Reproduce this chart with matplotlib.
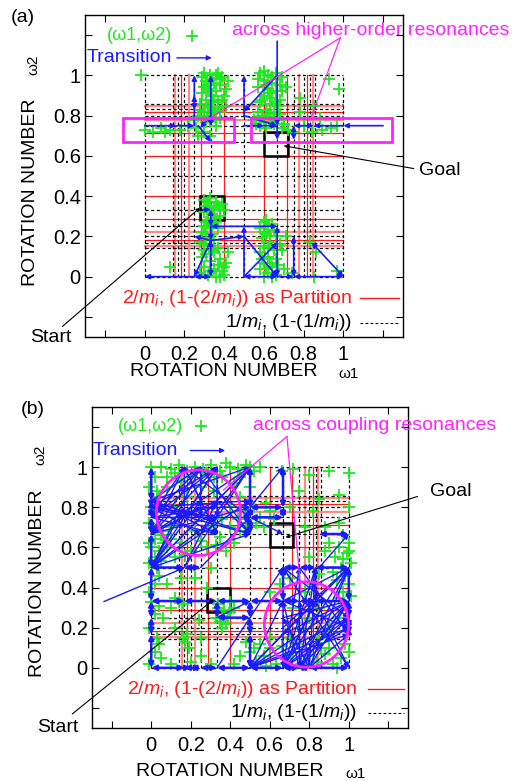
import matplotlib
matplotlib.use("Agg")
import matplotlib.pyplot as plt
from matplotlib.patches import Rectangle, Ellipse

plt.rcParams['font.family'] = ['Liberation Sans', 'DejaVu Sans']
plt.rcParams['mathtext.fontset'] = 'custom'
plt.rcParams['mathtext.rm'] = 'Liberation Sans'
plt.rcParams['mathtext.it'] = 'Liberation Sans:italic'

GREEN = '#1ee81e'
BLUE = '#1a1aff'
MAG = '#ff22ff'
RED = '#ff1a1a'
PINK = '#ff8a8a'

# --- partition lines: 2/m, 1-2/m (red) and 1/m, 1-1/m (dotted) ---
red_dark = [0.182, 0.286, 0.4, 0.6, 0.714, 0.818]
red_light = [0.154, 0.222, 0.778, 0.846]
dotted_vals = [0, 0.143, 0.167, 0.2, 0.25, 0.333, 0.5, 0.667, 0.75, 0.8, 0.833, 0.857, 1]

ticks = [-0.2, 0, 0.2, 0.4, 0.6, 0.8, 1, 1.2]
tick_labels = ['', '0', '0.2', '0.4', '0.6', '0.8', '1', '']

# --- panel (a): rotation numbers (w1, w2) ---
pts_a = [(0.30, 1.01), (0.33, 1.0), (0.36, 1.0), (0.39, 0.99), (0.31, 0.97), (0.35, 0.96), (0.38, 0.95),
         (0.32, 0.93), (0.36, 0.92), (0.29, 0.91), (0.34, 0.90), (0.40, 0.90), (0.31, 0.88), (0.37, 0.87),
         (0.33, 0.85), (0.28, 0.86), (0.35, 0.83), (0.30, 0.82), (0.38, 0.82), (0.33, 0.80), (0.27, 0.80),
         (0.36, 0.78), (0.31, 0.77), (0.25, 0.78), (0.42, 0.97), (0.41, 0.85), (0.32, 0.95), (0.37, 1.01),
         (0.34, 0.87), (0.30, 0.79), (0.29, 0.99), (0.34, 0.98), (0.38, 0.98), (0.41, 0.93), (0.33, 0.92),
         (0.30, 0.94), (0.39, 0.88), (0.35, 0.88), (0.32, 0.84), (0.37, 0.84), (0.34, 0.81), (0.28, 0.83),
         (0.38, 0.79), (0.33, 0.77), (0.36, 0.75),
         (-0.02, 1.0), (0.0, 0.73), (0.04, 0.72), (0.08, 0.74), (0.10, 0.72), (0.13, 0.73), (0.18, 0.73),
         (0.22, 0.75), (0.26, 0.74), (0.30, 0.72), (0.33, 0.70), (0.27, 0.70),
         (0.58, 1.01), (0.62, 1.0), (0.66, 1.01), (0.69, 0.99), (0.60, 0.97), (0.64, 0.96), (0.68, 0.95),
         (0.57, 0.94), (0.62, 0.93), (0.66, 0.92), (0.60, 0.90), (0.64, 0.89), (0.68, 0.88), (0.58, 0.87),
         (0.63, 0.86), (0.67, 0.85), (0.61, 0.83), (0.65, 0.82), (0.59, 0.80), (0.63, 0.79), (0.67, 0.78),
         (0.60, 0.77), (0.65, 0.76), (0.58, 0.75), (0.70, 0.76), (0.55, 0.78), (0.71, 0.94), (0.66, 0.98),
         (0.60, 1.02), (0.64, 0.99), (0.57, 0.98), (0.61, 0.95), (0.69, 0.92), (0.63, 0.91), (0.59, 0.88),
         (0.66, 0.87), (0.62, 0.81), (0.68, 0.81), (0.57, 0.82), (0.64, 0.77), (0.61, 0.74), (0.69, 0.74),
         (0.56, 0.76),
         (0.78, 0.89), (0.85, 0.85), (0.78, 0.82), (0.93, 0.98), (0.98, 0.93), (0.80, 0.75), (0.84, 0.72),
         (0.89, 0.73), (0.94, 0.74), (0.97, 0.75), (0.75, 0.72), (0.72, 0.73), (0.88, 0.79),
         (0.30, 0.38), (0.33, 0.39), (0.36, 0.37), (0.39, 0.36), (0.31, 0.35), (0.35, 0.34), (0.40, 0.33),
         (0.30, 0.32), (0.34, 0.31), (0.38, 0.30), (0.32, 0.28), (0.36, 0.27), (0.30, 0.25), (0.33, 0.24),
         (0.29, 0.22), (0.34, 0.21), (0.31, 0.19), (0.28, 0.17), (0.33, 0.15), (0.30, 0.13), (0.35, 0.12),
         (0.29, 0.10), (0.33, 0.08), (0.38, 0.09), (0.41, 0.07), (0.30, 0.05), (0.35, 0.04), (0.39, 0.03),
         (0.32, 0.01), (0.36, 0.0), (0.40, 0.01), (0.28, 0.02), (0.42, 0.12), (0.37, 0.14), (0.13, 0.05),
         (0.32, 0.37), (0.37, 0.35), (0.33, 0.33), (0.38, 0.33), (0.35, 0.29), (0.31, 0.27), (0.34, 0.26),
         (0.37, 0.24), (0.31, 0.21), (0.35, 0.18), (0.30, 0.16), (0.34, 0.13), (0.31, 0.11), (0.37, 0.06),
         (0.33, 0.03), (0.38, 0.0), (0.40, 0.05),
         (0.60, 0.27), (0.62, 0.25), (0.58, 0.24), (0.65, 0.23), (0.61, 0.21), (0.66, 0.20), (0.59, 0.19),
         (0.63, 0.17), (0.60, 0.15), (0.65, 0.13), (0.58, 0.12), (0.62, 0.10), (0.66, 0.09), (0.60, 0.07),
         (0.64, 0.05), (0.58, 0.04), (0.62, 0.02), (0.66, 0.01), (0.60, 0.0), (0.69, 0.13), (0.71, 0.20),
         (0.70, 0.04), (0.68, 0.16), (0.61, 0.28), (0.64, 0.26), (0.60, 0.22), (0.63, 0.20), (0.62, 0.14),
         (0.59, 0.09), (0.63, 0.07), (0.61, 0.04), (0.64, 0.0), (0.67, 0.06),
         (0.83, 0.17), (0.85, 0.0), (0.74, 0.02), (0.97, 0.03), (0.86, 0.12)]

arrows_a = [(0.25, 0.75, 0.25, 1.0), (0.333, 0.8, 0.333, 1.0), (0.5, 0.8, 0.5, 1.0),
            (0.667, 1.17, 0.667, 0.75), (0.667, 1.0, 0.5, 0.82), (0.5, 0.8, 0.667, 0.75),
            (0.0, 0.75, 0.16, 0.75), (0.16, 0.75, 0.25, 0.75), (0.27, 0.75, 0.333, 0.67),
            (0.333, 0.8, 0.28, 0.74), (0.5, 0.75, 0.6, 0.75), (0.6, 0.75, 0.667, 0.75),
            (1.2, 0.75, 1.0, 0.75), (1.0, 0.75, 0.85, 0.75), (0.667, 0.75, 0.667, 0.68),
            (0.29, 0.333, 0.333, 0.333), (0.333, 0.25, 0.333, 0.18), (0.333, 0.18, 0.25, 0.2),
            (0.333, 0.18, 0.5, 0.2), (0.333, 0.18, 0.25, 0.0), (0.25, 0.0, 0.0, 0.0),
            (0.5, 0.0, 0.5, 0.25), (0.5, 0.2, 0.667, 0.0), (0.5, 0.0, 0.667, 0.17),
            (0.667, 0.0, 0.75, 0.0)]
darrows_a = [(0.333, 0.75, 0.333, 0.8), (0.25, 0.83, 0.25, 0.9), (0.85, 0.75, 0.75, 0.75),
             (0.75, 0.75, 0.75, 0.68), (0.333, 0.333, 0.333, 0.25), (0.333, 0.25, 0.667, 0.25),
             (0.333, 0.18, 0.333, 0.0), (0.25, 0.0, 0.333, 0.0), (0.667, 0.0, 0.667, 0.25),
             (0.5, 0.0, 0.667, 0.0), (0.75, 0.0, 0.75, 0.2), (0.75, 0.0, 1.0, 0.0),
             (0.84, 0.17, 1.0, 0.0)]
rects_a = [(-0.111, 0.667, 0.56, 0.123), (0.535, 0.667, 0.712, 0.123)]

# --- panel (b) ---
pts_b = [(-0.01, 0.02), (0.02, 0.08), (0.04, 0.12), (-0.01, 0.2), (0.02, 0.27), (0.04, 0.31), (-0.01, 0.38),
         (0.02, 0.42), (0.04, 0.46), (-0.01, 0.52), (0.02, 0.55), (0.04, 0.58), (-0.01, 0.62), (0.02, 0.64),
         (0.04, 0.7), (-0.01, 0.72), (0.02, 0.78), (0.04, 0.85), (-0.01, 0.9), (0.02, 0.95), (0.0, 1.0),
         (0.03, 0.15), (0.0, 0.33), (0.03, 0.5), (0.0, 0.6), (0.05, 0.66), (0.0, 0.8), (0.03, 0.88),
         (0.05, 0.53), (0.06, 0.62),
         (0.05, 1.0), (0.10, 0.99), (0.14, 1.01), (0.18, 0.98), (0.22, 1.0), (0.26, 0.99), (0.30, 1.01),
         (0.35, 0.98), (0.40, 1.0), (0.44, 0.99), (0.48, 1.01), (0.52, 0.98), (0.55, 1.0), (0.08, 0.95),
         (0.20, 0.95), (0.32, 0.95), (0.45, 0.95), (0.12, 0.97), (0.28, 0.97), (0.38, 1.02), (0.50, 1.0),
         (0.08, 0.60), (0.12, 0.55), (0.15, 0.62), (0.20, 0.58), (0.06, 0.68), (0.10, 0.70), (0.28, 0.60),
         (0.35, 0.65), (0.40, 0.70), (0.42, 0.62), (0.45, 0.68), (0.48, 0.72), (0.38, 0.58), (0.30, 0.70),
         (0.22, 0.68), (0.12, 0.80), (0.18, 0.85), (0.25, 0.90), (0.32, 0.88), (0.40, 0.80), (0.45, 0.85),
         (0.08, 0.90), (0.15, 0.93), (0.50, 0.90), (0.52, 0.80), (0.55, 0.75), (0.60, 0.78), (0.58, 0.82),
         (0.62, 0.74), (0.50, 0.70), (0.47, 0.78), (0.36, 0.95), (0.42, 0.92), (0.10, 0.64), (0.17, 0.56),
         (0.25, 0.63), (0.33, 0.61), (0.44, 0.74), (0.36, 0.74), (0.53, 0.72), (0.57, 0.70),
         (0.66, 0.98), (0.72, 0.99), (0.80, 0.96), (0.90, 0.98), (1.0, 0.97), (0.75, 0.88), (0.85, 0.84),
         (0.95, 0.86), (0.70, 0.80), (0.82, 0.78), (0.88, 0.70), (0.95, 0.72), (1.0, 0.80), (0.78, 0.70),
         (0.90, 0.62), (0.80, 0.55),
         (0.97, 0.66), (1.0, 0.62), (0.95, 0.60), (0.99, 0.57), (0.93, 0.55), (1.01, 0.52), (0.96, 0.50),
         (0.98, 0.46), (0.94, 0.44), (1.0, 0.42), (0.97, 0.38), (0.95, 0.35), (0.88, 0.58), (0.85, 0.47),
         (1.0, 0.58), (0.97, 0.54), (0.92, 0.48), (1.01, 0.36),
         (0.42, 0.02), (0.45, 0.06), (0.50, 0.08), (0.53, 0.03), (0.57, 0.06), (0.60, 0.10), (0.63, 0.02),
         (0.68, 0.05), (0.72, 0.08), (0.76, 0.02), (0.80, 0.06), (0.84, 0.03), (0.88, 0.07), (0.92, 0.02),
         (0.96, 0.05), (1.0, 0.08), (0.98, 0.12), (0.94, 0.0), (0.55, 0.12), (0.48, 0.13), (0.60, 0.15),
         (0.52, 0.10), (0.58, 0.01), (0.66, 0.11), (0.74, 0.12), (0.86, 0.10),
         (0.70, 0.15), (0.75, 0.20), (0.80, 0.25), (0.85, 0.30), (0.90, 0.20), (0.95, 0.25), (0.72, 0.30),
         (0.78, 0.38), (0.82, 0.42), (0.70, 0.45), (0.65, 0.42), (0.60, 0.38), (0.90, 0.10), (0.85, 0.15),
         (0.34, 0.30), (0.37, 0.29), (0.40, 0.28), (0.36, 0.26), (0.33, 0.25), (0.39, 0.25), (0.35, 0.23),
         (0.38, 0.22), (0.42, 0.30), (0.36, 0.20), (0.34, 0.32), (0.40, 0.33),
         (0.17, 0.13), (0.19, 0.10), (0.16, 0.15), (0.18, 0.17), (0.14, 0.33), (0.12, 0.35), (0.16, 0.32),
         (0.10, 0.30),
         (0.05, 0.05), (0.10, 0.02), (0.20, 0.03), (0.25, 0.06), (0.30, 0.02), (0.12, 0.20), (0.25, 0.15),
         (0.28, 0.40), (0.08, 0.42), (0.22, 0.45), (0.30, 0.50), (0.15, 0.45), (0.06, 0.25), (0.24, 0.24)]

# chains of double-headed transitions along partition lines: (fixed value, nodes)
vchains_b = [(0.0, [0, 0.167, 0.25, 0.333, 0.5, 0.667, 0.75, 0.8, 0.833, 1.0]),
             (0.5, [0, 0.167, 0.25, 0.333]), (0.5, [0.667, 0.75, 0.8, 1.0]),
             (0.667, [0.75, 0.8, 1.0]), (0.667, [0.333, 0.5]), (0.333, [0.25, 0.333]),
             (1.0, [0.167, 0.2, 0.25, 0.333, 0.5])]
hchains_b = [(0.0, [0, 0.167, 0.2, 0.25, 0.333, 0.5, 0.667, 0.75, 0.8, 1.0]),
             (0.333, [0, 0.167, 0.333, 0.5, 0.667, 0.75, 0.833, 1.0]),
             (0.5, [0, 0.167, 0.25]), (0.5, [0.667, 0.75, 0.833, 1.0]),
             (0.25, [0.333, 0.5]), (0.8, [0.5, 0.667]), (0.75, [0.5, 0.667]),
             (0.667, [0.85, 1.0])]
arrows_b = [(0.333, 0.0, 0.667, 0.5), (0.85, 0.5, 1.0, 0.667), (0.5, 0.8, 0.667, 1.0),
            (0.5, 0.75, 0.667, 0.667), (0.333, 0.25, 0.5, 0.333), (0.5, 0.0, 0.667, 0.333),
            (-0.24, 0.33, 0.17, 0.5),
            # upper-left bundle
            (0, 0.5, 0.5, 1.0), (0, 0.5, 0.333, 1.0), (0, 0.5, 0.25, 1.0), (0, 0.5, 0.5, 0.833),
            (0, 0.5, 0.333, 0.75), (0, 0.5, 0.5, 0.667), (0, 0.667, 0.5, 1.0), (0, 0.667, 0.333, 1.0),
            (0, 0.667, 0.25, 0.8), (0, 0.667, 0.5, 0.8), (0, 0.667, 0.333, 0.833), (0, 0.75, 0.25, 1.0),
            (0, 0.75, 0.333, 0.667), (0, 0.75, 0.5, 0.75), (0, 0.75, 0.167, 1.0), (0, 0.8, 0.333, 1.0),
            (0, 0.8, 0.25, 0.667), (0, 0.8, 0.5, 0.833), (0, 0.8, 0.333, 0.75), (0, 0.833, 0.25, 1.0),
            (0, 0.833, 0.5, 1.0), (0, 0.833, 0.333, 0.667), (0, 0.833, 0.25, 0.75),
            (0.167, 1.0, 0.333, 0.667), (0.25, 1.0, 0.0, 0.667), (0.333, 1.0, 0.167, 0.75),
            (0.167, 0.5, 0.5, 1.0), (0.25, 0.5, 0.5, 0.75), (0.167, 0.5, 0.333, 0.833),
            (0.25, 0.8, 0.5, 0.8), (0.333, 0.75, 0.0, 0.8), (0.5, 1.0, 0.25, 0.667),
            (0.25, 1.0, 0.25, 0.75), (0.167, 1.0, 0.167, 0.75), (0.333, 1.0, 0.333, 0.75),
            (0.5, 0.667, 0.0, 0.833), (0.333, 0.833, 0.5, 0.667), (0, 0.5, 0.25, 0.833),
            (0, 0.5, 0.167, 0.8), (0, 0.667, 0.167, 1.0), (0, 0.75, 0.333, 0.8), (0.25, 1.0, 0.5, 0.667),
            (0.333, 1.0, 0.0, 0.75), (0.167, 1.0, 0.5, 0.75), (0, 0.8, 0.5, 0.667), (0, 0.833, 0.167, 0.75),
            (0.5, 1.0, 0.0, 0.5), (0.333, 0.667, 0.167, 1.0),
            # lower-right bundle
            (0.5, 0, 1.0, 0.5), (0.5, 0, 1.0, 0.333), (0.5, 0, 0.833, 0.333), (0.5, 0, 0.75, 0.25),
            (0.5, 0, 1.0, 0.25), (0.667, 0, 1.0, 0.5), (0.667, 0, 1.0, 0.333), (0.667, 0, 1.0, 0.2),
            (0.667, 0, 0.833, 0.333), (0.667, 0, 0.75, 0.5), (0.75, 0, 1.0, 0.5), (0.75, 0, 1.0, 0.25),
            (0.75, 0, 0.667, 0.333), (0.75, 0, 0.833, 0.5), (0.8, 0, 1.0, 0.333), (0.8, 0, 0.667, 0.25),
            (0.8, 0, 1.0, 0.167), (0.8, 0, 0.75, 0.333), (0.667, 0.333, 1.0, 0.5), (0.667, 0.333, 1.0, 0.2),
            (0.667, 0.25, 1.0, 0.333), (0.667, 0.5, 1.0, 0.25), (0.75, 0.5, 1.0, 0.167),
            (0.667, 0.2, 1.0, 0.5), (0.833, 0.333, 0.667, 0.0), (1.0, 0.333, 0.75, 0.0),
            (1.0, 0.5, 0.667, 0.167), (0.833, 0.5, 0.833, 0.333), (0.75, 0.333, 0.75, 0.167),
            (0.667, 0.333, 0.667, 0.0), (0.833, 0.25, 0.667, 0.5), (1.0, 0.2, 0.5, 0.0),
            (0.5, 0, 1.0, 0.167), (0.667, 0, 0.833, 0.5), (0.75, 0, 1.0, 0.333), (0.8, 0, 1.0, 0.5),
            (1.0, 0.25, 0.667, 0.0), (0.833, 0.333, 1.0, 0.0), (0.667, 0.5, 1.0, 0.0), (0.75, 0.5, 0.75, 0.0),
            (0.667, 0.167, 1.0, 0.333), (0.8, 0.0, 0.833, 0.5)]
circles_b = [(0.239, 0.773, 0.213), (0.786, 0.216, 0.213)]

goal_box = (0.6, 0.6, 0.12)
start_box = (0.28, 0.28, 0.12)


def arrow(ax, x0, y0, x1, y1, style='-|>', lw=1.0, color=BLUE, ms=7):
    ax.annotate('', xy=(x1, y1), xytext=(x0, y0), annotation_clip=False, zorder=4,
                arrowprops=dict(arrowstyle=style, color=color, lw=lw, mutation_scale=ms,
                                shrinkA=0, shrinkB=0))


def setup(ax):
    ax.set_xlim(-0.3, 1.3)
    ax.set_ylim(-0.3, 1.3)
    ax.set_xticks(ticks)
    ax.set_xticklabels(tick_labels)
    ax.set_yticks(ticks)
    ax.set_yticklabels(tick_labels)
    ax.tick_params(direction='in', top=True, right=True, length=5, width=0.8, labelsize=14.5)
    ax.tick_params(axis='x', pad=6)
    ax.tick_params(axis='y', pad=3)
    for s in ax.spines.values():
        s.set_linewidth(1.0)
    # partition
    for v in red_light:
        ax.plot([v, v], [0, 1], color=PINK, lw=1.6, zorder=1)
        ax.plot([0, 1], [v, v], color=PINK, lw=1.6, zorder=1)
    for v in red_dark:
        ax.plot([v, v], [0, 1], color=RED, lw=0.9, zorder=1)
        ax.plot([0, 1], [v, v], color=RED, lw=0.9, zorder=1)
    for v in dotted_vals:
        ax.plot([v, v], [0, 1], color='black', lw=0.9, ls=(0, (2.5, 2)), zorder=1.1)
        ax.plot([0, 1], [v, v], color='black', lw=0.9, ls=(0, (2.5, 2)), zorder=1.1)
    for x0, y0, s in [goal_box, start_box]:
        ax.add_patch(Rectangle((x0, y0), s, s, fill=False, ec='black', lw=1.8, zorder=1.5))


def legend_lines(ax, x_txt, y_red, y_blk, x0, x1):
    ax.text(x_txt, y_red, r'2/$m_i$, (1-(2/$m_i$)) as Partition', color=RED, fontsize=14,
            ha='right', va='center')
    ax.plot([x0, x1], [y_red, y_red], color=RED, lw=1.0, clip_on=False)
    ax.text(x_txt, y_blk, r'1/$m_i$, (1-(1/$m_i$))', color='black', fontsize=14,
            ha='right', va='center')
    ax.plot([x0, x1], [y_blk, y_blk], color='black', lw=0.8, ls=(0, (2.5, 2)), clip_on=False)


fig = plt.figure(figsize=(5.28, 7.81), dpi=100)
ax_a = fig.add_axes([85 / 528, 1 - 337 / 781, 318 / 528, 322 / 781])
ax_b = fig.add_axes([92 / 528, 1 - 728 / 781, 316 / 528, 321 / 781])

# ---------- panel (a) ----------
ax = ax_a
setup(ax)
ax.plot([p[0] for p in pts_a], [p[1] for p in pts_a], ls='none', marker='+', ms=9, mew=1.3,
        color=GREEN, zorder=2)
for a in arrows_a:
    arrow(ax, *a, lw=1.2)
for a in darrows_a:
    arrow(ax, *a, style='<|-|>', lw=1.2)
for x0, y0, w, h in rects_a:
    ax.add_patch(Rectangle((x0, y0), w, h, fill=False, ec=MAG, lw=2.0, zorder=5, clip_on=False))
ax.text(0.136, 1.197, '(ω1,ω2)', color=GREEN, fontsize=13, ha='right', va='center')
ax.plot([0.237], [1.197], marker='+', ms=9, mew=1.3, color=GREEN, clip_on=False)
ax.text(0.136, 1.087, 'Transition', color=BLUE, fontsize=14, ha='right', va='center')
arrow(ax, 0.162, 1.087, 0.338, 1.087)
ax.text(0.439, 1.222, 'across higher-order resonances', color=MAG, fontsize=14, ha='left', va='center')
ax.plot([0.985, 0.30], [1.187, 0.77], color=MAG, lw=0.9, clip_on=False, zorder=5)
ax.plot([0.985, 0.833], [1.187, 0.778], color=MAG, lw=0.9, clip_on=False, zorder=5)
legend_lines(ax, 1.045, -0.108, -0.228, 1.086, 1.278)
ax.text(1.379, 0.526, 'Goal', fontsize=14, ha='left', va='center')
arrow(ax, 1.354, 0.537, 0.70, 0.65, lw=0.8, color='black', ms=5)
ax.text(-0.47, -0.30, 'Start', fontsize=14, ha='center', va='center')
arrow(ax, -0.414, -0.248, 0.278, 0.342, lw=0.8, color='black', ms=5)

# ---------- panel (b) ----------
ax = ax_b
setup(ax)
ax.plot([p[0] for p in pts_b], [p[1] for p in pts_b], ls='none', marker='+', ms=9, mew=1.3,
        color=GREEN, zorder=2)
for x, nodes in vchains_b:
    for y0, y1 in zip(nodes[:-1], nodes[1:]):
        arrow(ax, x, y0, x, y1, style='<|-|>', lw=1.8)
for y, nodes in hchains_b:
    for x0, x1 in zip(nodes[:-1], nodes[1:]):
        arrow(ax, x0, y, x1, y, style='<|-|>', lw=1.8)
for a in arrows_b:
    arrow(ax, *a, lw=1.0)
for cx, cy, r in circles_b:
    ax.add_patch(Ellipse((cx, cy), 2 * r, 2 * r, fill=False, ec=MAG, lw=2.0, zorder=5))
ax.text(0.162, 1.203, '(ω1,ω2)', color=GREEN, fontsize=13, ha='right', va='center')
ax.plot([0.253], [1.203], marker='+', ms=9, mew=1.3, color=GREEN, clip_on=False)
ax.text(0.136, 1.083, 'Transition', color=BLUE, fontsize=14, ha='right', va='center')
arrow(ax, 0.197, 1.083, 0.374, 1.083)
ax.text(0.515, 1.208, 'across coupling resonances', color=MAG, fontsize=14, ha='left', va='center')
ax.plot([0.687, 0.365], [1.153, 0.886], color=MAG, lw=0.9, clip_on=False, zorder=5)
ax.plot([0.687, 0.76], [1.153, 0.36], color=MAG, lw=0.9, clip_on=False, zorder=5)
legend_lines(ax, 1.04, -0.108, -0.223, 1.096, 1.278)
ax.text(1.409, 0.879, 'Goal', fontsize=14, ha='left', va='center')
arrow(ax, 1.348, 0.854, 0.68, 0.65, lw=0.8, color='black', ms=5)
ax.text(-0.475, -0.297, 'Start', fontsize=14, ha='center', va='center')
arrow(ax, -0.40, -0.23, 0.315, 0.34, lw=0.8, color='black', ms=5)

# ---------- panel tags and axis titles ----------
for lab, lx, ly in [('(a)', 23, 17), ('(b)', 33, 410)]:
    fig.text(lx / 528, 1 - ly / 781, lab, fontsize=14, ha='center', va='center')
for x_px, y_px, w_px in [(130, 372, 338), (136, 772, 345)]:
    fig.text(x_px / 528, 1 - y_px / 781, 'ROTATION NUMBER', fontsize=14, ha='left', va='center')
    fig.text(w_px / 528, 1 - (y_px + 2) / 781, 'ω1', fontsize=11, ha='left', va='center')
for x_px, y_px, wy_px in [(31, 192, 65), (38, 583, 455)]:
    fig.text(x_px / 528, 1 - y_px / 781, 'ROTATION NUMBER', fontsize=14, rotation=90,
             ha='center', va='center')
    fig.text((x_px + 2) / 528, 1 - wy_px / 781, 'ω2', fontsize=11, rotation=90,
             ha='center', va='center')

fig.savefig('out.png', dpi=100)
